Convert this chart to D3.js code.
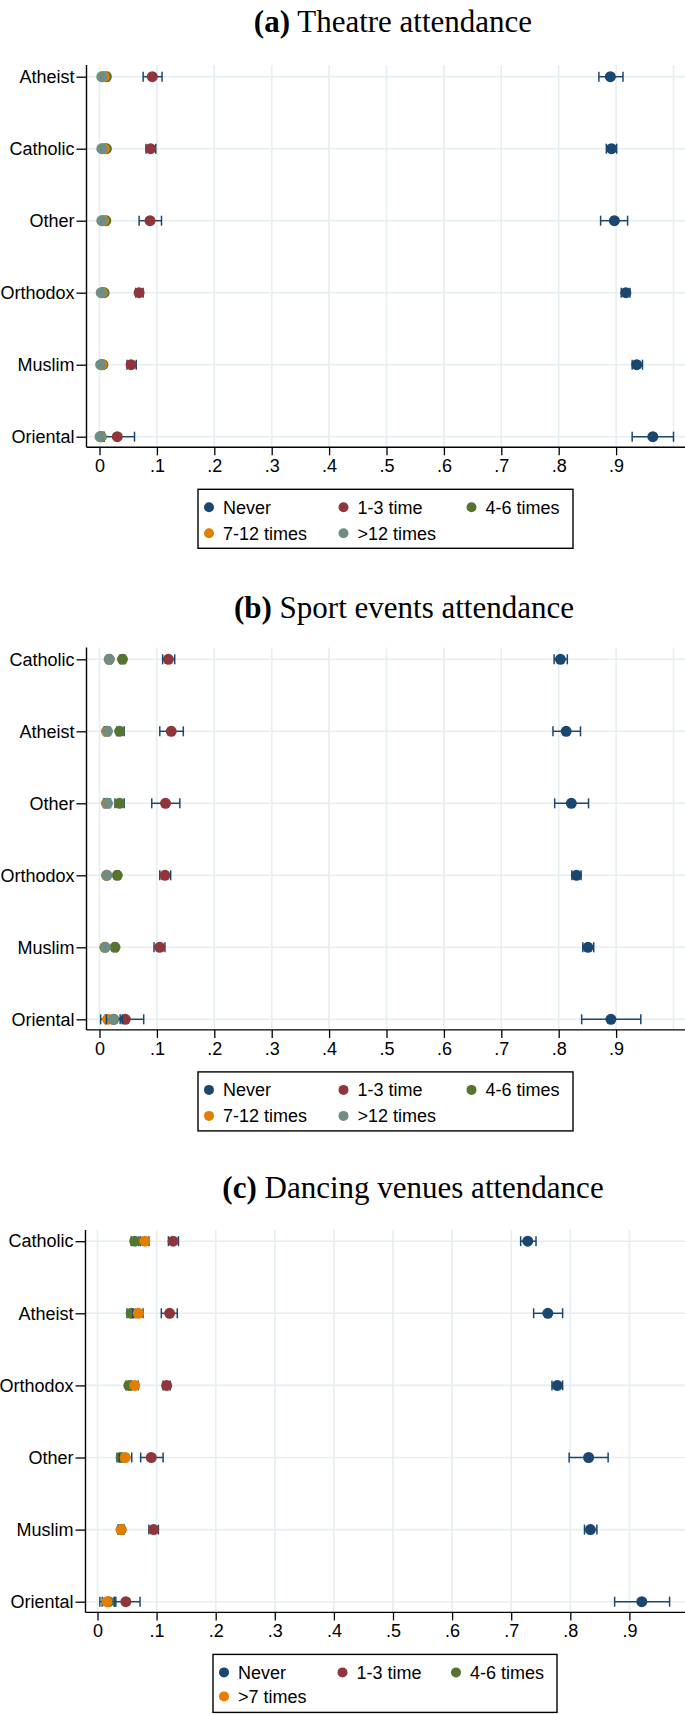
<!DOCTYPE html>
<html><head><meta charset="utf-8">
<script src="https://cdn.jsdelivr.net/npm/d3@7"></script>
<style>body{margin:0;background:#fff} svg{display:block}</style>
</head><body><svg id="chart" width="685" height="1714"></svg>
<script>
// ---------- data ----------
const seriesNames = ["Never", "1-3 time", "4-6 times", "7-12 times", ">12 times"];
const seriesNamesC = ["Never", "1-3 time", "4-6 times", ">7 times"];
const seriesColors = ["#1a476f", "#90353b", "#55752f", "#e37e00", "#6e8e84"];
const tickValues = [0, .1, .2, .3, .4, .5, .6, .7, .8, .9];
const tickLabels = ["0", ".1", ".2", ".3", ".4", ".5", ".6", ".7", ".8", ".9"];
const gridValues = [0, .1, .2, .3, .4, .5, .6, .7, .8, .9, 1];

// (a) Theatre attendance
const theatreCats = ["Atheist", "Catholic", "Other", "Orthodox", "Muslim", "Oriental"];
const theatreNever = [.890, .892, .897, .917, .936, .964];
const theatreNeverCI = [[.870, .912], [.883, .901], [.873, .920], [.909, .924], [.928, .946], [.928, 1.0]];
const theatre13 = [.092, .089, .088, .069, .055, .031];
const theatre13CI = [[.076, .109], [.081, .098], [.069, .108], [.063, .076], [.048, .064], [.008, .061]];
const theatre46 = [.012, .012, .011, .008, .006, .003];
const theatre46CI = [[.008, .016], [.010, .014], [.007, .015], [.006, .010], [.004, .008], [.000, .008]];
const theatre712 = [.008, .008, .007, .005, .004, .002];
const theatre712CI = [[.005, .011], [.006, .010], [.004, .010], [.004, .006], [.003, .005], [.000, .006]];
const theatre12p = [.004, .004, .004, .003, .002, .001];
const theatre12pCI = [[.002, .006], [.003, .005], [.002, .006], [.002, .004], [.001, .003], [.000, .004]];

// (b) Sport events attendance
const sportCats = ["Catholic", "Atheist", "Other", "Orthodox", "Muslim", "Oriental"];
const sportNever = [.803, .813, .822, .831, .851, .891];
const sportNeverCI = [[.792, .815], [.790, .838], [.793, .852], [.823, .839], [.842, .861], [.840, .943]];
const sport13 = [.120, .125, .115, .114, .105, .045];
const sport13CI = [[.110, .131], [.105, .146], [.091, .140], [.105, .124], [.095, .114], [.022, .077]];
const sport46 = [.040, .035, .035, .031, .027, .025];
const sport46CI = [[.036, .044], [.030, .043], [.027, .043], [.028, .034], [.024, .030], [.010, .040]];
const sport712 = [.017, .012, .012, .012, .009, .014];
const sport712CI = [[.014, .020], [.008, .016], [.007, .017], [.010, .014], [.007, .011], [.002, .027]];
const sport12p = [.017, .014, .014, .013, .010, .024];
const sport12pCI = [[.014, .020], [.010, .018], [.009, .019], [.011, .015], [.008, .012], [.012, .036]];

// (c) Dancing venues attendance
const danceCats = ["Catholic", "Atheist", "Orthodox", "Other", "Muslim", "Oriental"];
const danceNever = [.728, .762, .778, .831, .834, .921];
const danceNeverCI = [[.716, .742], [.738, .787], [.769, .787], [.798, .864], [.824, .845], [.875, .968]];
const dance13 = [.128, .122, .117, .091, .095, .048];
const dance13CI = [[.120, .137], [.108, .135], [.111, .123], [.073, .111], [.087, .103], [.028, .072]];
const dance46 = [.063, .057, .053, .040, .040, .019];
const dance46CI = [[.057, .070], [.050, .064], [.048, .058], [.033, .047], [.035, .045], [.008, .031]];
const dance7p = [.080, .069, .063, .047, .040, .016];
const dance7pCI = [[.073, .087], [.060, .077], [.057, .069], [.037, .058], [.035, .045], [.004, .029]];

// ---------- drawing ----------
const svg = d3.select("#chart");
const ciColor = "#1a476f";
const gridColor = "#e5eef1";
const sansFont = "'Liberation Sans', Arial, sans-serif";
const serifFont = "'Liberation Serif', 'Times New Roman', serif";

function drawPanel(p) {
  const g = svg.append("g");
  const x = d3.scaleLinear().domain([0, 1]).range([p.x0, p.x0 + 10 * p.xStep]);
  const y = d3.scalePoint().domain(p.cats).range([p.rowFirst, p.rowFirst + 5 * p.rowStep]);

  // title
  const t = g.append("text").attr("x", p.titleX).attr("y", p.titleY)
    .attr("text-anchor", "middle").attr("font-family", serifFont)
    .attr("font-size", 31).attr("fill", "#000");
  t.append("tspan").attr("font-weight", "bold").text(p.tag);
  t.append("tspan").text(" " + p.title);

  // grid
  g.append("g").selectAll("line").data(gridValues).join("line")
    .attr("x1", d => x(d)).attr("x2", d => x(d))
    .attr("y1", p.plotTop).attr("y2", p.axisY)
    .attr("stroke", gridColor).attr("stroke-width", 1.6);
  g.append("g").selectAll("line").data(p.cats).join("line")
    .attr("x1", p.axisX).attr("x2", 685)
    .attr("y1", d => y(d)).attr("y2", d => y(d))
    .attr("stroke", gridColor).attr("stroke-width", 1.6);

  // axes
  const xAxis = d3.axisBottom(x).tickValues(tickValues)
    .tickFormat((d, i) => tickLabels[i]).tickSize(8).tickPadding(4);
  const gx = g.append("g").attr("transform", `translate(0,${p.axisY})`).call(xAxis);
  gx.select(".domain").remove();
  gx.selectAll("line").attr("stroke", "#000").attr("stroke-width", 1.3);
  gx.selectAll("text").attr("font-family", sansFont).attr("font-size", 18).attr("fill", "#000");
  g.append("line").attr("x1", p.axisX).attr("x2", 685).attr("y1", p.axisY).attr("y2", p.axisY)
    .attr("stroke", "#000").attr("stroke-width", 1.4);

  const yAxis = d3.axisLeft(y).tickSize(10).tickPadding(2);
  const gy = g.append("g").attr("transform", `translate(${p.axisX},0)`).call(yAxis);
  gy.select(".domain").remove();
  gy.selectAll("line").attr("stroke", "#000").attr("stroke-width", 1.3);
  gy.selectAll("text").attr("font-family", sansFont).attr("font-size", 18).attr("fill", "#000");
  g.append("line").attr("x1", p.axisX).attr("x2", p.axisX).attr("y1", p.plotTop).attr("y2", p.axisY)
    .attr("stroke", "#000").attr("stroke-width", 1.4);

  // series
  p.series.forEach((s) => {
    const rows = p.cats.map((c, i) => ({c, v: s.vals[i], lo: s.ci[i][0], hi: s.ci[i][1]}));
    const sg = g.append("g");
    sg.selectAll("line.ci").data(rows).join("line").attr("class", "ci")
      .attr("x1", d => x(d.lo)).attr("x2", d => x(d.hi))
      .attr("y1", d => y(d.c)).attr("y2", d => y(d.c))
      .attr("stroke", ciColor).attr("stroke-width", 1.5);
    sg.selectAll("line.capl").data(rows).join("line").attr("class", "capl")
      .attr("x1", d => x(d.lo)).attr("x2", d => x(d.lo))
      .attr("y1", d => y(d.c) - 5).attr("y2", d => y(d.c) + 5)
      .attr("stroke", ciColor).attr("stroke-width", 1.5);
    sg.selectAll("line.caph").data(rows).join("line").attr("class", "caph")
      .attr("x1", d => x(d.hi)).attr("x2", d => x(d.hi))
      .attr("y1", d => y(d.c) - 5).attr("y2", d => y(d.c) + 5)
      .attr("stroke", ciColor).attr("stroke-width", 1.5);
    sg.selectAll("circle").data(rows).join("circle")
      .attr("cx", d => x(d.v)).attr("cy", d => y(d.c)).attr("r", 5.5)
      .attr("fill", s.color);
  });

  // legend
  const L = p.legend;
  g.append("rect").attr("x", L.x0).attr("y", p.axisY + 42)
    .attr("width", L.x1 - L.x0).attr("height", L.h)
    .attr("fill", "#fff").attr("stroke", "#000").attr("stroke-width", 1.4);
  p.series.forEach((s, i) => {
    const col = i % 3, row = Math.floor(i / 3);
    const lx = L.cols[col], ly = p.axisY + L.rows[row];
    g.append("circle").attr("cx", lx).attr("cy", ly).attr("r", 5).attr("fill", s.color);
    g.append("text").attr("x", lx + 14).attr("y", ly + 6.5)
      .attr("font-family", sansFont).attr("font-size", 18).attr("fill", "#000").text(s.name);
  });
}

function mk(names, valsList, ciList) {
  return names.map((n, i) => ({name: n, color: seriesColors[i], vals: valsList[i], ci: ciList[i]}));
}

drawPanel({
  tag: "(a)", title: "Theatre attendance", titleX: 393, titleY: 32,
  cats: theatreCats,
  series: mk(seriesNames, [theatreNever, theatre13, theatre46, theatre712, theatre12p],
    [theatreNeverCI, theatre13CI, theatre46CI, theatre712CI, theatre12pCI]),
  x0: 99.5, xStep: 57.4, axisX: 86.5, plotTop: 65, rowFirst: 76.7, rowStep: 72, axisY: 447.3,
  legend: {x0: 198, x1: 573, h: 59, cols: [209, 343.5, 471.5], rows: [60, 86]}
});
drawPanel({
  tag: "(b)", title: "Sport events attendance", titleX: 404, titleY: 618,
  cats: sportCats,
  series: mk(seriesNames, [sportNever, sport13, sport46, sport712, sport12p],
    [sportNeverCI, sport13CI, sport46CI, sport712CI, sport12pCI]),
  x0: 99.5, xStep: 57.4, axisX: 86.5, plotTop: 647.6, rowFirst: 659.3, rowStep: 72, axisY: 1029.9,
  legend: {x0: 198, x1: 573, h: 59, cols: [209, 343.5, 471.5], rows: [60, 86]}
});
drawPanel({
  tag: "(c)", title: "Dancing venues attendance", titleX: 413, titleY: 1198,
  cats: danceCats,
  series: mk(seriesNamesC, [danceNever, dance13, dance46, dance7p],
    [danceNeverCI, dance13CI, dance46CI, dance7pCI]),
  x0: 97.5, xStep: 59.1, axisX: 85.5, plotTop: 1230, rowFirst: 1241.2, rowStep: 72.1, axisY: 1612.4,
  legend: {x0: 213, x1: 557, h: 58, cols: [224, 342.5, 456], rows: [60, 84]}
});
</script>
</body></html>
